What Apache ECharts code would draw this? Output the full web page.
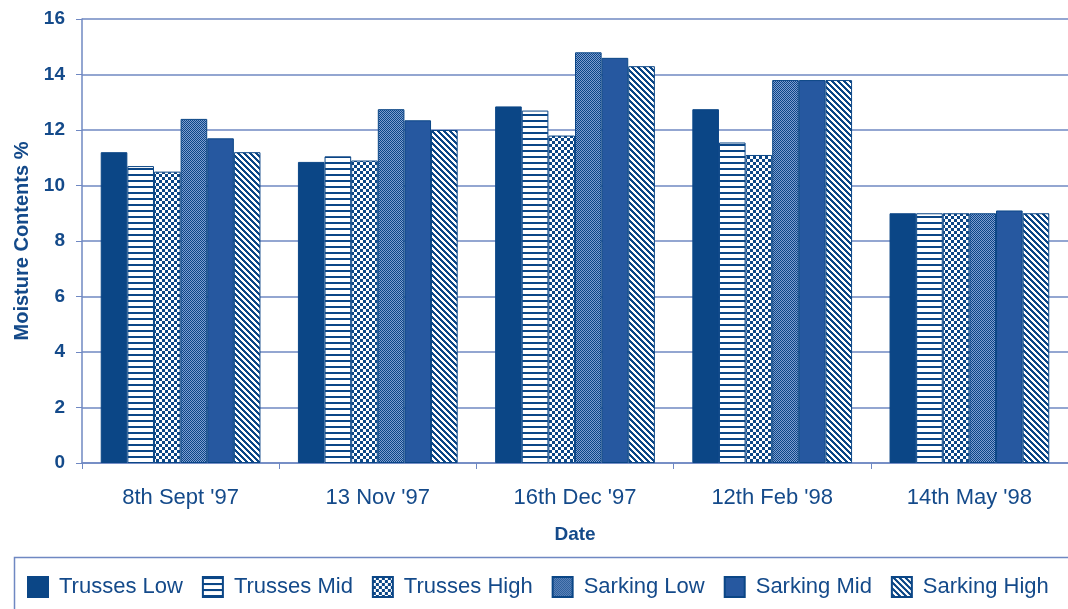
<!DOCTYPE html>
<html>
<head>
<meta charset="utf-8">
<script src="https://cdn.jsdelivr.net/npm/echarts@6/dist/echarts.min.js"></script>
<style>html,body{margin:0;padding:0;background:#fff;}#c{width:1068px;height:609px;}</style>
</head>
<body>
<div id="c"></div>
<script>
const categories = ["8th Sept '97", "13 Nov '97", "16th Dec '97", "12th Feb '98", "14th May '98"];
const seriesNames = ["Trusses Low", "Trusses Mid", "Trusses High", "Sarking Low", "Sarking Mid", "Sarking High"];
const trussesLow  = [11.2, 10.85, 12.85, 12.75, 9.0];
const trussesMid  = [10.7, 11.05, 12.7, 11.55, 9.0];
const trussesHigh = [10.5, 10.9, 11.8, 11.1, 9.0];
const sarkingLow  = [12.4, 12.75, 14.8, 13.8, 9.0];
const sarkingMid  = [11.7, 12.35, 14.6, 13.8, 9.1];
const sarkingHigh = [11.2, 12.0, 14.3, 13.8, 9.0];
const yTicks = { min: 0, max: 16, interval: 2 };

const NAVY = '#0b4686';
const MID = '#2658a0';
const TXT = '#144a8a';
const GRID = '#6f88c2';
const FONT = 'Liberation Sans, Arial, sans-serif';

function pat(w, h, draw) {
  const c = document.createElement('canvas');
  c.width = w; c.height = h;
  const ctx = c.getContext('2d');
  draw(ctx, w, h);
  return { image: c, repeat: 'repeat' };
}
const pStripesH = pat(6, 6, (ctx) => { ctx.fillStyle = '#fff'; ctx.fillRect(0,0,6,6); ctx.fillStyle = NAVY; ctx.fillRect(0,0,6,2); });
const pChecker = pat(6, 6, (ctx) => { ctx.fillStyle = NAVY; ctx.fillRect(0,0,6,6); ctx.fillStyle = '#fff'; ctx.fillRect(0,0,3,3); ctx.fillRect(3,3,3,3); });
const pFine = pat(2, 2, (ctx) => { ctx.fillStyle = '#7f9dd0'; ctx.fillRect(0,0,2,2); ctx.fillStyle = NAVY; ctx.fillRect(0,0,1,1); ctx.fillRect(1,1,1,1); });
const pDiag = pat(6, 6, (ctx) => {
  ctx.fillStyle = '#fff'; ctx.fillRect(0,0,6,6); ctx.fillStyle = NAVY;
  for (let y = 0; y < 6; y++) for (let k = 0; k < 3; k++) ctx.fillRect((y + k) % 6, y, 1, 1);
});

const fills = [NAVY, pStripesH, pChecker, pFine, MID, pDiag];
const dataSets = [trussesLow, trussesMid, trussesHigh, sarkingLow, sarkingMid, sarkingHigh];

const chart = echarts.init(document.getElementById('c'), null, { renderer: 'canvas' });
chart.setOption({
  backgroundColor: '#ffffff',
  animation: false,
  grid: { left: 82, top: 19, bottom: 146, width: 990 },
  graphic: [{
    type: 'rect', left: 12, top: 555,
    shape: { x: 0, y: 0, width: 1070, height: 60 },
    style: { fill: 'none', stroke: GRID, lineWidth: 1.5 }
  }],
  legend: {
    left: 22, top: 571, width: 1046, itemWidth: 20, itemHeight: 20, itemGap: 19,
    icon: 'rect',
    textStyle: { fontFamily: FONT, fontSize: 22, color: TXT, padding: [0, 0, 0, 6] },
    data: seriesNames
  },
  xAxis: {
    type: 'category', data: categories,
    axisLine: { lineStyle: { color: GRID, width: 1.5 } },
    axisTick: { show: true, length: 6, lineStyle: { color: GRID } },
    axisLabel: { margin: 24, fontFamily: FONT, fontSize: 22, color: TXT },
    name: 'Date', nameLocation: 'middle', nameGap: 62,
    nameTextStyle: { fontFamily: FONT, fontSize: 19, fontWeight: 'bold', color: TXT }
  },
  yAxis: {
    type: 'value', min: yTicks.min, max: yTicks.max, interval: yTicks.interval,
    axisLine: { show: true, lineStyle: { color: GRID, width: 1.5 } },
    axisTick: { show: true, length: 6, lineStyle: { color: GRID } },
    splitLine: { lineStyle: { color: GRID, width: 1.5 } },
    axisLabel: { margin: 17, fontFamily: FONT, fontSize: 19, fontWeight: 'bold', color: TXT },
    name: 'Moisture Contents %', nameLocation: 'middle', nameGap: 48,
    nameTextStyle: { fontFamily: FONT, fontSize: 20, fontWeight: 'bold', color: TXT }
  },
  series: seriesNames.map((n, i) => ({
    name: n, type: 'bar', data: dataSets[i],
    barGap: '0%', barCategoryGap: '19%',
    itemStyle: { color: fills[i], borderColor: NAVY, borderWidth: 1 }
  }))
});
</script>
</body>
</html>
